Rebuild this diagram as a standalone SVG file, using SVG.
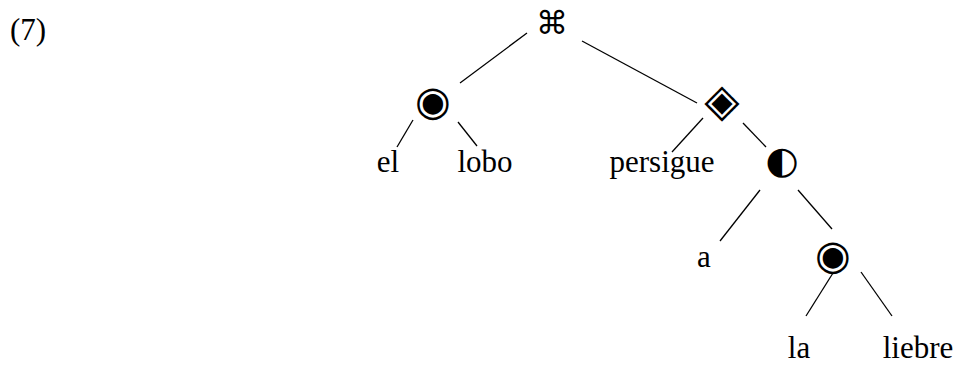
<svg xmlns="http://www.w3.org/2000/svg" width="958" height="365" viewBox="0 0 958 365">
  <style>
    .word { font-family: "Liberation Serif", "Times New Roman", serif; font-size: 31px; fill: #000; text-anchor: middle; }
    .sym { font-family: "DejaVu Sans", sans-serif; fill: #000; text-anchor: middle; }
    .edge { stroke: #000; stroke-width: 1.3; fill: none; }
  </style>
  <rect width="958" height="365" fill="#fff"/>
  <text class="word" x="28" y="40">(7)</text>

  <!-- tree edges -->
  <g id="connectors">
    <line class="edge" x1="527" y1="33" x2="460" y2="83"/>
    <line class="edge" x1="582" y1="41" x2="697" y2="103"/>
    <line class="edge" x1="413" y1="120" x2="397" y2="147"/>
    <line class="edge" x1="458" y1="122" x2="477" y2="146"/>
    <line class="edge" x1="703" y1="118" x2="672" y2="152"/>
    <line class="edge" x1="743" y1="123" x2="766" y2="147"/>
    <line class="edge" x1="760" y1="190" x2="720" y2="241"/>
    <line class="edge" x1="798" y1="190" x2="832" y2="229"/>
    <line class="edge" x1="833" y1="273" x2="806" y2="316"/>
    <line class="edge" x1="861" y1="272" x2="892" y2="316"/>
  </g>

  <!-- inner nodes -->
  <g id="root"><text class="sym" x="552" y="34" font-size="32">⌘</text></g>
  <g id="np-subject"><text class="sym" x="433" y="115" font-size="41">◉</text></g>
  <g id="vp"><text class="sym" x="722" y="116" font-size="46">◈</text></g>
  <g id="pp"><text class="sym" x="782" y="173" font-size="38">◐</text></g>
  <g id="np-object"><text class="sym" x="833" y="269" font-size="41">◉</text></g>

  <!-- leaves -->
  <g id="leaf-el"><text class="word" x="388" y="172">el</text></g>
  <g id="leaf-lobo"><text class="word" x="485" y="172">lobo</text></g>
  <g id="leaf-persigue"><text class="word" x="662" y="172">persigue</text></g>
  <g id="leaf-a"><text class="word" x="704" y="267">a</text></g>
  <g id="leaf-la"><text class="word" x="799" y="358">la</text></g>
  <g id="leaf-liebre"><text class="word" x="918" y="358">liebre</text></g>
</svg>
